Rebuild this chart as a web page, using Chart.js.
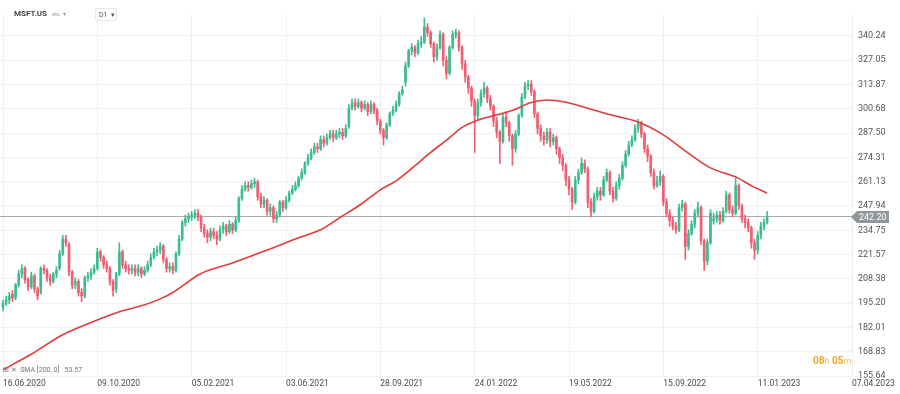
<!DOCTYPE html>
<html>
<head>
<meta charset="utf-8">
<script src="https://cdn.jsdelivr.net/npm/chart.js@4.4.0/dist/chart.umd.min.js"></script>
<style>
  body { margin: 0; background: #fff; font-family: Roboto, Arial, sans-serif; }
  #wrap { position: relative; width: 900px; height: 394px; overflow: hidden; }
  canvas { position: absolute; left: 0; top: 0; }
  .sym { position: absolute; left: 14px; top: 9px; font-size: 8px; font-weight: bold; color: #444; }
  .stc { position: absolute; left: 52px; top: 10px; font-size: 6px; color: #999; }
  .tf { position: absolute; left: 95px; top: 8px; width: 22px; height: 13px; border: 1px solid #e6e6e6; border-radius: 2px; font-size: 7px; color: #555; line-height: 13px; padding-left: 3px; box-sizing: border-box; }
  .sma { position: absolute; left: 3px; top: 366px; font-size: 7px; color: #777; }
  .timer { position: absolute; left: 813px; top: 355px; font-size: 10px; color: #f5a623; font-weight: bold; }
  .timer span { color: #f2bb6a; font-weight: normal; font-size: 9px; }
</style>
</head>
<body>
<div id="wrap">
  <canvas id="chart" width="900" height="394"></canvas>
  <div class="sym">MSFT.US</div>
  <div class="stc">stc &nbsp;▾</div>
  <div class="tf">D1 &nbsp;▾</div>
  <div class="sma">⊞ ✕ &nbsp;SMA [200, 0] &nbsp;&nbsp;53.57</div>
  <div class="timer">08<span>h</span> 05<span>m</span></div>
</div>
<script>
// candles, one every ~3 trading days
var open = [193,195,197,200,198,205,211,214,208,204,
 210,203,201,214,213,209,207,211,214,222,
 230,227,212,205,207,201,199,209,210,212,
 214,223,220,216,214,207,203,211,223,216,
 214,213,214,212,214,211,213,216,220,223,
 224,226,219,214,215,213,222,230,239,241,
 242,243,244,242,236,233,231,234,232,230,
 235,237,234,238,235,240,252,257,259,258,
 260,261,253,249,251,245,247,241,243,250,
 247,251,255,257,259,263,266,271,274,277,
 280,279,284,282,285,287,285,287,288,286,
 291,301,304,302,304,301,303,299,303,300,
 294,289,285,292,298,300,303,309,315,324,
 332,334,331,336,337,345,342,336,329,334,
 341,327,320,334,341,342,334,325,318,312,
 305,297,304,309,312,306,302,294,288,283,
 296,293,286,279,287,297,307,313,314,310,
 298,290,286,284,288,283,285,279,274,270,
 262,257,250,262,266,271,268,250,245,253,
 256,254,262,266,256,252,259,263,270,276,
 281,284,290,293,287,279,275,266,259,261,
 264,250,244,240,237,235,247,249,226,233,
 238,244,247,229,218,228,240,241,243,240,
 245,254,246,244,259,248,241,239,236,228,
 224,232,237,239];
var close = [195,197,199,198,205,211,214,208,204,210,
 203,199,214,213,209,207,211,213,222,230,
 228,212,205,207,201,199,209,210,212,214,
 223,220,216,214,207,202,211,223,216,214,
 213,214,212,214,211,213,216,220,223,224,
 226,219,214,215,213,222,230,239,241,242,
 243,244,242,236,233,231,234,232,230,235,
 237,234,238,235,240,252,257,259,258,260,
 261,253,249,251,245,247,241,243,250,247,
 251,255,257,259,263,266,271,274,277,280,
 279,284,282,285,287,285,287,288,286,290,
 301,304,302,304,301,303,299,303,300,294,
 289,285,292,298,300,303,309,311,324,332,
 334,331,336,337,345,342,336,329,334,341,
 327,320,334,341,342,334,325,318,312,305,
 297,304,309,312,306,302,294,288,283,296,
 293,286,279,287,297,307,313,314,310,298,
 290,286,284,288,283,285,279,274,270,262,
 257,250,262,266,271,268,250,245,253,256,
 254,262,266,256,252,259,263,270,276,281,
 284,290,293,287,279,275,266,259,261,264,
 250,244,240,237,235,247,249,226,233,238,
 244,247,229,218,228,244,241,243,240,245,
 254,246,244,259,248,241,239,236,228,224,
 232,237,239,242];
var high = [197,199,201,202,206,213,216,215,209,212,
 211,204,215,216,214,211,212,215,224,232,
 232,228,213,209,208,203,210,212,214,216,
 225,224,221,218,215,208,212,228,224,218,
 216,216,216,216,215,215,218,222,225,226,
 228,227,220,217,217,223,232,240,243,244,
 245,246,246,243,238,235,236,236,234,237,
 239,238,240,239,242,253,259,261,261,262,
 263,262,255,253,252,249,248,245,251,251,
 253,256,259,261,264,268,272,276,279,282,
 282,286,286,287,289,289,289,290,290,292,
 303,306,306,306,305,305,304,305,304,301,
 295,290,293,299,302,305,310,313,326,333,
 336,335,338,340,350,347,343,337,336,343,
 342,329,335,343,344,343,335,327,319,313,
 306,306,311,315,313,308,303,296,289,298,
 299,294,287,289,298,309,315,316,316,311,
 299,292,288,290,290,287,286,280,276,271,
 264,258,264,268,274,273,269,252,255,258,
 258,264,268,267,258,261,265,272,278,283,
 286,292,295,294,288,281,276,268,264,267,
 265,252,246,242,239,249,251,250,235,240,
 246,250,248,230,230,246,244,245,245,247,
 256,255,248,263,260,249,243,241,237,230,
 234,239,241,245];
var low = [191,194,195,196,197,204,209,206,202,203,
 201,197,200,211,207,205,206,209,213,221,
 226,210,203,203,199,196,198,207,208,211,
 213,218,214,212,205,199,201,210,214,212,
 211,211,210,210,209,210,212,215,219,221,
 222,217,212,212,211,212,221,229,237,239,
 240,241,240,234,231,228,229,230,227,229,
 233,232,233,233,234,239,251,256,256,257,
 258,251,247,247,243,243,239,239,242,245,
 246,250,254,256,258,262,265,270,273,276,
 277,278,280,281,284,283,284,285,284,285,
 290,300,300,301,299,300,297,298,298,292,
 287,281,284,291,297,299,302,308,313,323,
 330,329,330,334,336,340,334,326,327,333,
 324,317,319,333,339,332,322,315,309,302,
 277,295,302,307,304,300,291,285,271,282,
 291,283,270,277,286,296,306,311,308,296,
 287,283,281,282,280,281,276,271,267,259,
 254,246,249,260,265,266,247,242,244,251,
 251,253,261,254,250,251,257,262,269,275,
 280,283,288,285,277,272,264,257,258,259,
 248,242,237,235,233,234,245,219,224,232,
 236,242,227,213,216,227,238,239,238,239,
 244,244,242,243,246,239,236,234,225,219,
 222,230,235,238];

// SMA 200 line, sampled along its curve
var smaPos = [0,9.5,19,30,38,44.6,50,54,62.7,73,84,94.5,101,107,113.6,120,125.4,130.5,136,141.3,146.4,151.8,157.2,162.3,167.7,173,178.2,184.6,193.2,201.8,209,218.7,225,233.6,238.7,243];
var smaVal = [159,168,178,186,191,194,197.5,201,211,217,224,231,235,241.5,248.6,256.7,262,269,277,284,291,295,297.4,300,304,305.5,304.5,301.7,297.4,293.6,287.6,275.7,268.6,263.2,258.3,255];

var lastPrice = 242.20;

var xTickPos = [0,30,60,90,120,150,180,210,240,270];
var xTickLabels = ['16.06.2020','09.10.2020','05.02.2021','03.06.2021','28.09.2021','24.01.2022','19.05.2022','15.09.2022','11.01.2023','07.04.2023'];
var yTickVals = [155.64,168.83,182.01,195.20,208.38,221.57,234.75,247.94,261.13,274.31,287.50,300.68,313.87,327.05,340.24];

var green = '#3dbd8f', red = '#f05f71';
var colors = open.map(function (o, i) { return close[i] >= o ? green : red; });

var wicks = open.map(function (o, i) { return { x: i, y: [low[i], high[i]] }; });
var bodies = open.map(function (o, i) { return { x: i, y: [o, close[i]] }; });
var sma = smaPos.map(function (p, i) { return { x: p, y: smaVal[i] }; });

var xMin = -0.95, xMax = 270;

var priceTag = {
  id: 'priceTag',
  afterDraw: function (chart) {
    var ctx = chart.ctx, y = chart.scales.y, area = chart.chartArea;
    var py = Math.round(y.getPixelForValue(lastPrice));
    var x0 = area.right - 1;
    ctx.save();
    ctx.fillStyle = '#8f979d';
    ctx.beginPath();
    ctx.moveTo(x0, py);
    ctx.lineTo(x0 + 6, py - 6);
    ctx.lineTo(x0 + 38, py - 6);
    ctx.lineTo(x0 + 38, py + 6);
    ctx.lineTo(x0 + 6, py + 6);
    ctx.closePath();
    ctx.fill();
    ctx.fillStyle = '#fff';
    ctx.font = '9px Roboto';
    ctx.textAlign = 'left';
    ctx.textBaseline = 'middle';
    ctx.fillText(lastPrice.toFixed(2), x0 + 8, py + 0.5);
    ctx.restore();
  }
};

new Chart(document.getElementById('chart'), {
  type: 'bar',
  data: {
    datasets: [
      { type: 'line', data: sma, borderColor: '#e23a3a', borderWidth: 1.6, pointRadius: 0, cubicInterpolationMode: 'monotone', order: 0 },
      { data: bodies, backgroundColor: colors, barThickness: 2, minBarLength: 1, grouped: false, order: 1 },
      { data: wicks, backgroundColor: colors, barThickness: 1, grouped: false, order: 2 },
      { type: 'line', data: [{ x: xMin, y: lastPrice }, { x: xMax, y: lastPrice }], borderColor: '#a6aaae', borderWidth: 1, pointRadius: 0, order: 3 }
    ]
  },
  options: {
    responsive: false,
    animation: false,
    devicePixelRatio: 1,
    layout: { padding: { top: 15, left: 0, right: 0, bottom: 0 } },
    plugins: { legend: { display: false }, tooltip: { enabled: false } },
    scales: {
      x: {
        type: 'linear',
        min: xMin,
        max: xMax,
        offset: false,
        afterBuildTicks: function (s) { s.ticks = xTickPos.map(function (v) { return { value: v }; }); },
        afterFit: function (s) { s.height = 18; },
        grid: { color: '#efefef', drawTicks: false, offset: false },
        border: { display: false },
        ticks: {
          autoSkip: false,
          maxRotation: 0,
          align: 'start',
          padding: 3,
          color: '#4a4a4a',
          font: { family: 'Roboto', size: 8.5 },
          callback: function (v) { var k = xTickPos.indexOf(v); return k < 0 ? '' : xTickLabels[k]; }
        }
      },
      y: {
        type: 'linear',
        position: 'right',
        min: 155.64,
        max: 351.6,
        afterBuildTicks: function (s) { s.ticks = yTickVals.map(function (v) { return { value: v }; }); },
        afterFit: function (s) { s.width = 48; },
        grid: { color: '#f1f1f1', drawTicks: false },
        border: { display: false },
        ticks: {
          padding: 6,
          color: '#555',
          font: { family: 'Roboto', size: 9 },
          callback: function (v) { return v.toFixed(2); }
        }
      }
    }
  },
  plugins: [priceTag]
});
</script>
</body>
</html>
